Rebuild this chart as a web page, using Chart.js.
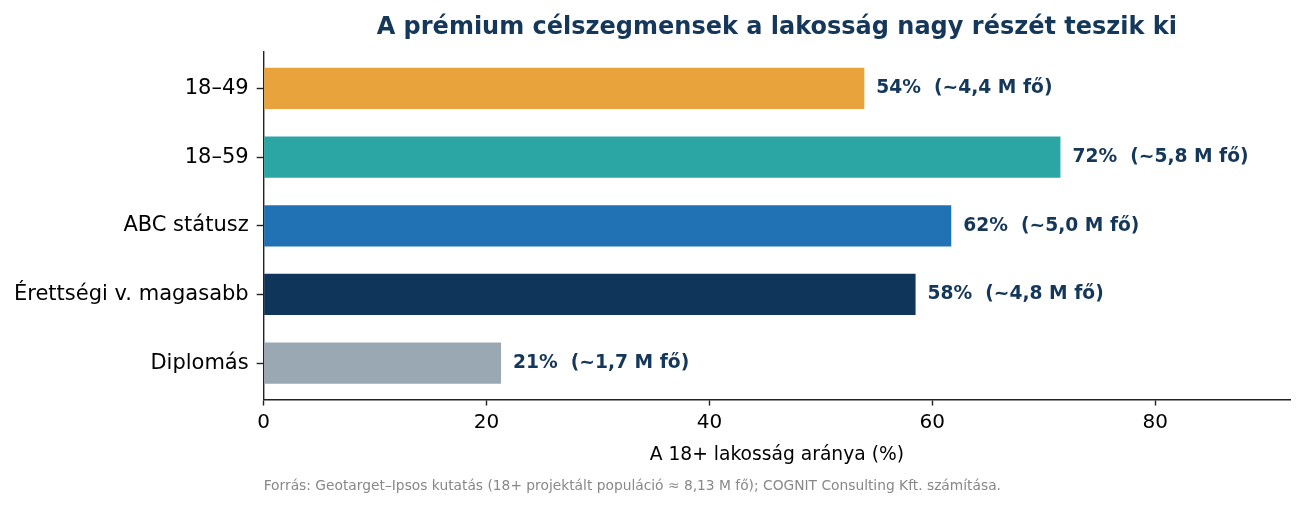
<!DOCTYPE html>
<html>
<head>
<meta charset="utf-8">
<script src="https://cdn.jsdelivr.net/npm/chart.js@4/dist/chart.umd.min.js"></script>
<style>
  html, body { margin: 0; padding: 0; background: #ffffff; }
  #wrap { width: 1304px; height: 508px; }
</style>
</head>
<body>
<div id="wrap"><canvas id="chart" width="1304" height="508"></canvas></div>
<script>
// Data
const categories = ['18–49', '18–59', 'ABC státusz', 'Érettségi v. magasabb', 'Diplomás'];
const shares     = [53.9, 71.5, 61.7, 58.5, 21.3];
const barLabels  = ['54%  (~4,4 M fő)', '72%  (~5,8 M fő)', '62%  (~5,0 M fő)', '58%  (~4,8 M fő)', '21%  (~1,7 M fő)'];
const xTicks     = [0, 20, 40, 60, 80];

const BAR_COLORS = ['#E8A33D', '#2CA6A4', '#2171B5', '#10355A', '#9AA8B4'];
const NAVY   = '#14375A';
const FONT   = 'DejaVu Sans, sans-serif';
const AXIS   = '#222222';
const TITLE  = 'A prémium célszegmensek a lakosság nagy részét teszik ki';
const SOURCE = 'Forrás: Geotarget–Ipsos kutatás (18+ projektált populáció ≈ 8,13 M fő); COGNIT Consulting Kft. számítása.';

// title over the plot area, value labels at bar ends, source line at the bottom
const annotations = {
  id: 'annotations',
  afterDatasetsDraw(chart) {
    const { ctx, chartArea } = chart;
    const meta = chart.getDatasetMeta(0);
    ctx.save();
    ctx.textBaseline = 'middle';

    ctx.font = `bold 24px ${FONT}`;
    ctx.fillStyle = NAVY;
    ctx.textAlign = 'center';
    ctx.fillText(TITLE, (chartArea.left + chartArea.right) / 2, 28);

    ctx.font = `bold 18.7px ${FONT}`;
    ctx.textAlign = 'left';
    meta.data.forEach((bar, i) => {
      ctx.fillText(barLabels[i], bar.x + 12, bar.y);
    });

    ctx.font = `13.8px ${FONT}`;
    ctx.fillStyle = '#888888';
    ctx.fillText(SOURCE, chartArea.left, 486);
    ctx.restore();
  },
};

new Chart(document.getElementById('chart'), {
  type: 'bar',
  data: {
    datasets: [{
      data: shares.map((v, i) => ({ x: v, y: i })),
      backgroundColor: BAR_COLORS,
      borderWidth: 0,
      barPercentage: 0.6,
      categoryPercentage: 1.0,
    }],
  },
  options: {
    indexAxis: 'y',
    responsive: false,
    animation: false,
    layout: { padding: { left: 6, right: 14, top: 52, bottom: 42 } },
    plugins: {
      legend: { display: false },
      tooltip: { enabled: false },
    },
    scales: {
      x: {
        type: 'linear',
        min: 0,
        max: 92.1,
        afterBuildTicks: axis => { axis.ticks = xTicks.map(v => ({ value: v })); },
        ticks: { color: '#000', font: { family: FONT, size: 20 }, padding: 5 },
        grid: { drawOnChartArea: false, drawTicks: true, tickLength: 6, tickWidth: 1.4, tickColor: AXIS },
        border: { display: true, color: AXIS, width: 1.4 },
        title: {
          display: true,
          text: 'A 18+ lakosság aránya (%)',
          color: '#000',
          font: { family: FONT, size: 18.7 },
          padding: { top: 4, bottom: 0 },
        },
      },
      y: {
        type: 'linear',
        reverse: true,
        offset: false,
        min: -0.53,
        max: categories.length - 1 + 0.53,
        afterBuildTicks: axis => { axis.ticks = categories.map((_, i) => ({ value: i })); },
        ticks: {
          color: '#000',
          font: { family: FONT, size: 21 },
          padding: 8,
          callback: v => categories[v],
        },
        grid: { offset: false, drawOnChartArea: false, drawTicks: true, tickLength: 7, tickWidth: 1.4, tickColor: AXIS },
        border: { display: true, color: AXIS, width: 1.4 },
      },
    },
  },
  plugins: [annotations],
});
</script>
</body>
</html>
